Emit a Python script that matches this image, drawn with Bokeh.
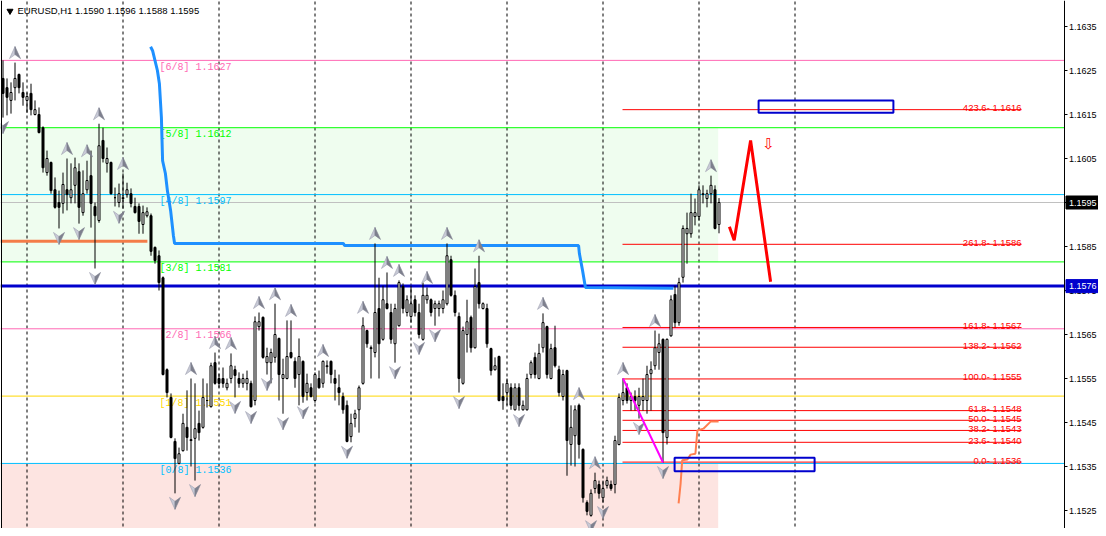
from bokeh.plotting import figure
from bokeh.models import Range1d
from bokeh.embed import file_html
from bokeh.resources import INLINE
from bokeh.core.properties import value

# ---------------- data ----------------
opens = [1.16232,1.16211,1.16182,1.16211,1.16241,1.16200,1.16182,1.16198,1.16150,1.16150,
         1.16120,1.16018,1.16041,1.15979,1.15950,1.15948,1.15979,1.15961,1.15989,1.16020,
         1.15927,1.15979,1.16011,1.15941,1.15909,1.16091,1.16039,1.16041,1.15961,1.15950,
         1.15959,1.15968,1.15970,1.15941,1.15941,1.15900,1.15920,1.15920,1.15848,1.15829,
         1.15779,1.15570,1.15507,1.15407,1.15357,1.15386,1.15439,1.15411,1.15414,1.15448,
         1.15439,1.15500,1.15486,1.15586,1.15550,1.15550,1.15529,1.15550,1.15570,1.15550,
         1.15539,1.15539,1.15539,1.15500,1.15668,1.15689,1.15586,1.15586,1.15598,1.15641,
         1.15550,1.15550,1.15609,1.15589,1.15559,1.15589,1.15518,1.15529,1.15500,1.15550,
         1.15539,1.15577,1.15589,1.15550,1.15529,1.15509,1.15489,1.15418,1.15459,1.15479,
         1.15539,1.15659,1.15620,1.15609,1.15709,1.15639,1.15720,1.15700,1.15629,1.15670,
         1.15759,1.15700,1.15691,1.15729,1.15700,1.15639,1.15729,1.15729,1.15709,1.15709,
         1.15709,1.15720,1.15820,1.15739,1.15691,1.15539,1.15650,1.15689,1.15620,1.15768,
         1.15709,1.15709,1.15618,1.15570,1.15600,1.15509,1.15518,1.15529,1.15479,1.15529,
         1.15479,1.15479,1.15559,1.15598,1.15550,1.15620,1.15668,1.15550,1.15620,1.15570,
         1.15509,1.15568,1.15400,1.15420,1.15489,1.15389,1.15268,1.15239,1.15300,1.15309,
         1.15279,1.15307,1.15309,1.15309,1.15400,1.15500,1.15529,1.15500,1.15509,1.15489,
         1.15500,1.15500,1.15561,1.15579,1.15609,1.15639,1.15416,1.15647,1.15741,1.15677,
         1.15780,1.15879,1.15879,1.15918,1.15918,1.15968,1.15959,1.15970,1.15979,1.15900]
highs = [1.16273,1.16232,1.16223,1.16268,1.16243,1.16223,1.16200,1.16220,1.16182,1.16166,
         1.16123,1.16068,1.16043,1.16007,1.15977,1.16018,1.16050,1.16039,1.16052,1.16039,
         1.16023,1.16045,1.16068,1.15950,1.16129,1.16120,1.16075,1.16043,1.15984,1.15993,
         1.16016,1.15995,1.15982,1.15961,1.15948,1.15943,1.15939,1.15925,1.15850,1.15841,
         1.15782,1.15573,1.15516,1.15414,1.15393,1.15470,1.15523,1.15550,1.15539,1.15477,
         1.15550,1.15539,1.15586,1.15609,1.15561,1.15575,1.15550,1.15607,1.15579,1.15564,
         1.15561,1.15568,1.15545,1.15691,1.15700,1.15691,1.15620,1.15618,1.15720,1.15643,
         1.15595,1.15682,1.15682,1.15598,1.15641,1.15591,1.15561,1.15539,1.15564,1.15568,
         1.15591,1.15591,1.15591,1.15570,1.15559,1.15518,1.15500,1.15470,1.15479,1.15534,
         1.15689,1.15661,1.15625,1.15857,1.15779,1.15761,1.15791,1.15720,1.15720,1.15773,
         1.15766,1.15739,1.15761,1.15739,1.15720,1.15768,1.15757,1.15732,1.15727,1.15727,
         1.15750,1.15857,1.15829,1.15750,1.15700,1.15668,1.15729,1.15693,1.15800,1.15829,
         1.15723,1.15720,1.15620,1.15598,1.15602,1.15539,1.15550,1.15539,1.15539,1.15539,
         1.15500,1.15561,1.15591,1.15609,1.15629,1.15698,1.15670,1.15629,1.15670,1.15579,
         1.15570,1.15570,1.15489,1.15489,1.15493,1.15391,1.15273,1.15298,1.15336,1.15318,
         1.15318,1.15327,1.15318,1.15420,1.15516,1.15550,1.15539,1.15518,1.15523,1.15529,
         1.15550,1.15579,1.15589,1.15659,1.15652,1.15641,1.15641,1.15739,1.15761,1.15779,
         1.15898,1.15927,1.15970,1.15959,1.15989,1.15989,1.15979,1.16011,1.15989,1.15960]
lows = [1.16143,1.16148,1.16152,1.16182,1.16198,1.16170,1.16154,1.16148,1.16148,1.16107,
        1.16018,1.16011,1.15970,1.15936,1.15891,1.15925,1.15932,1.15948,1.15948,1.15902,
        1.15920,1.15970,1.15893,1.15800,1.15904,1.16041,1.16018,1.15968,1.15941,1.15939,
        1.15936,1.15961,1.15939,1.15925,1.15879,1.15879,1.15916,1.15829,1.15811,1.15750,
        1.15557,1.15507,1.15414,1.15289,1.15355,1.15384,1.15386,1.15350,1.15318,1.15409,
        1.15436,1.15484,1.15484,1.15536,1.15529,1.15529,1.15523,1.15539,1.15507,1.15529,
        1.15529,1.15523,1.15484,1.15489,1.15659,1.15595,1.15559,1.15539,1.15586,1.15500,
        1.15470,1.15548,1.15595,1.15529,1.15489,1.15495,1.15500,1.15507,1.15495,1.15527,
        1.15529,1.15561,1.15539,1.15500,1.15489,1.15470,1.15405,1.15405,1.15439,1.15427,
        1.15536,1.15620,1.15550,1.15598,1.15550,1.15636,1.15707,1.15629,1.15586,1.15668,
        1.15698,1.15691,1.15677,1.15691,1.15641,1.15636,1.15720,1.15691,1.15670,1.15691,
        1.15698,1.15716,1.15736,1.15691,1.15518,1.15536,1.15609,1.15609,1.15618,1.15709,
        1.15707,1.15620,1.15557,1.15568,1.15498,1.15479,1.15489,1.15479,1.15477,1.15477,
        1.15477,1.15477,1.15550,1.15550,1.15548,1.15609,1.15550,1.15548,1.15575,1.15509,
        1.15500,1.15329,1.15352,1.15350,1.15368,1.15268,1.15239,1.15236,1.15289,1.15277,
        1.15268,1.15300,1.15295,1.15289,1.15398,1.15489,1.15493,1.15477,1.15477,1.15459,
        1.15477,1.15470,1.15477,1.15570,1.15570,1.15359,1.15400,1.15645,1.15666,1.15670,
        1.15768,1.15811,1.15870,1.15898,1.15909,1.15948,1.15939,1.15948,1.15889,1.15880]
closes = [1.16198,1.16189,1.16200,1.16232,1.16211,1.16189,1.16191,1.16161,1.16161,1.16109,
          1.16029,1.16050,1.15977,1.15939,1.15939,1.15991,1.15968,1.15979,1.16029,1.15939,
          1.15970,1.16000,1.15948,1.15920,1.16079,1.16050,1.16050,1.15970,1.15961,1.15970,
          1.15961,1.15979,1.15948,1.15927,1.15907,1.15927,1.15929,1.15839,1.15818,1.15768,
          1.15559,1.15518,1.15416,1.15368,1.15379,1.15448,1.15416,1.15409,1.15436,1.15427,
          1.15507,1.15500,1.15579,1.15539,1.15539,1.15539,1.15539,1.15579,1.15557,1.15539,
          1.15550,1.15550,1.15486,1.15679,1.15679,1.15598,1.15600,1.15609,1.15650,1.15559,
          1.15559,1.15600,1.15598,1.15550,1.15600,1.15509,1.15539,1.15509,1.15559,1.15529,
          1.15589,1.15579,1.15559,1.15539,1.15518,1.15479,1.15407,1.15448,1.15470,1.15529,
          1.15670,1.15629,1.15618,1.15700,1.15629,1.15729,1.15709,1.15639,1.15709,1.15768,
          1.15709,1.15729,1.15720,1.15700,1.15650,1.15739,1.15739,1.15700,1.15720,1.15720,
          1.15729,1.15829,1.15739,1.15700,1.15550,1.15659,1.15679,1.15620,1.15759,1.15720,
          1.15720,1.15629,1.15568,1.15579,1.15500,1.15500,1.15539,1.15489,1.15529,1.15489,
          1.15489,1.15550,1.15586,1.15559,1.15607,1.15677,1.15559,1.15618,1.15579,1.15518,
          1.15559,1.15409,1.15439,1.15479,1.15400,1.15279,1.15248,1.15289,1.15318,1.15289,
          1.15300,1.15318,1.15300,1.15409,1.15507,1.15518,1.15500,1.15509,1.15500,1.15509,
          1.15509,1.15559,1.15570,1.15620,1.15629,1.15427,1.15639,1.15729,1.15677,1.15768,
          1.15891,1.15891,1.15927,1.15927,1.15979,1.15970,1.15970,1.15989,1.15891,1.15950]

up_fractals = [3, 16, 21, 24, 30, 47, 53, 57, 64, 68, 72, 80, 90, 93, 96, 99, 106, 111,
               119, 135, 144, 148, 155, 163, 177]
down_fractals = [0, 14, 19, 23, 29, 43, 48, 58, 62, 66, 70, 75, 86, 98, 104, 108, 114,
                 129, 147, 150, 159, 165]

day_starts = [6, 30, 54, 78, 102, 126, 150, 174, 198]
time_ticks = [0, 16, 32, 48, 64, 80, 96, 112, 128, 144, 160, 176, 192, 208, 224, 240, 256]

murrey_names = ["[6/8]", "[5/8]", "[4/8]", "[3/8]", "[2/8]", "[1/8]", "[0/8]"]
murrey_levels = [1.16273, 1.16120, 1.15968, 1.15815, 1.15663, 1.15510, 1.15357]
murrey_texts = ["1.1627", "1.1612", "1.1597", "1.1581", "1.1566", "1.1551", "1.1536"]
murrey_colors = ["#ff69b4", "#00ff00", "#00bfff", "#00ff00", "#ff69b4", "#ffd700", "#00bfff"]
murrey_minus1 = 1.15205

bid_price = 1.1595
bid_text = "1.1595"
blue_level = 1.1576
blue_text = "1.1576"
orange_level = 1.15862
orange_end = 36.1

fib_ratios = ["0.0", "23.6", "38.2", "50.0", "61.8", "100.0", "138.2", "161.8", "261.8", "423.6"]
fib_prices = [1.15360, 1.15405, 1.15432, 1.15455, 1.15477, 1.15549, 1.15621, 1.15666, 1.15855, 1.16161]
fib_texts = ["1.1536", "1.1540", "1.1543", "1.1545", "1.1548", "1.1555", "1.1562", "1.1567", "1.1586", "1.1616"]
fib_start, fib_end = 154.875, 254.625
fib_anchor_x = [155, 165]
fib_anchor_y = [1.15550, 1.15359]

blue_x = [36.9, 37.4, 38.6, 39.1, 39.6, 39.9, 40.6, 41.1, 41.9, 42.6, 42.9, 85.1, 85.4,
          143.9, 144.1, 144.9, 145.6, 167.6]
blue_y = [1.16304, 1.16295, 1.16250, 1.16220, 1.16143, 1.16045, 1.16016, 1.15977, 1.15932,
          1.15875, 1.15857, 1.15857, 1.15852, 1.15852, 1.15834, 1.15795, 1.15757, 1.15755]

zig_x = [181.6, 182.8, 186.9, 191.9]
zig_y = [1.15895, 1.15864, 1.16091, 1.15770]
sell_arrow = (191.4, 1.16084)

step_x = [168.9, 169.4, 169.8, 171.1, 171.9, 173.1, 173.6, 175.1, 176.9, 178.9]
step_y = [1.15266, 1.15311, 1.15364, 1.15366, 1.15377, 1.15379, 1.15432, 1.15436, 1.15452, 1.15452]

boxes_left = [188.9, 167.9]
boxes_right = [222.6, 202.9]
boxes_top = [1.16182, 1.15370]
boxes_bottom = [1.16154, 1.15339]

zone_right = 178.8
y_ticks = [1.1525, 1.1535, 1.1545, 1.1555, 1.1565, 1.1575, 1.1585, 1.1595, 1.1605, 1.1615, 1.1625, 1.1635]
y_tick_labels = ["1.1525", "1.1535", "1.1545", "1.1555", "1.1565", "1.1575", "1.1585", "1.1595",
                 "1.1605", "1.1615", "1.1625", "1.1635"]
header = "EURUSD,H1  1.1590 1.1596 1.1588 1.1595"

# ---------------- figure ----------------
W, H = 1098, 528
PXX, PXY = 4.0, 44000.0             # px per bar, px per price unit
X_START = -0.625
X_END = X_START + W / PXX
Y_TOP = 1.164091
Y_BOT = Y_TOP - H / PXY
FRAME_RIGHT = 265.375               # chart border (price scale starts here)
FRAME_BOTTOM = Y_TOP - 532 / PXY

p = figure(width=W, height=H, x_range=Range1d(X_START, X_END), y_range=Range1d(Y_BOT, Y_TOP),
           output_backend="svg", toolbar_location=None, x_axis_location=None,
           y_axis_location=None, min_border=0)
p.grid.visible = False
p.outline_line_color = None
p.background_fill_color = "white"
p.border_fill_color = "white"

def dx(px):
    return px / PXX

def dy(px):
    return px / PXY

# zones
p.quad(left=[X_START], right=[zone_right], top=[murrey_levels[1]], bottom=[murrey_levels[3]],
       fill_color="#effdef", line_color=None)
p.quad(left=[X_START], right=[zone_right], top=[murrey_levels[6]], bottom=[FRAME_BOTTOM],
       fill_color="#fde4e1", line_color=None)

# day separators
p.segment(x0=day_starts, y0=[FRAME_BOTTOM] * len(day_starts), x1=day_starts,
          y1=[Y_TOP] * len(day_starts), line_color="black", line_width=1, line_dash="3 3")

# murrey lines
nl = len(murrey_levels)
p.segment(x0=[X_START] * nl, y0=murrey_levels, x1=[FRAME_RIGHT] * nl, y1=murrey_levels,
          line_color=murrey_colors, line_width=1)
p.segment(x0=[X_START], y0=[murrey_minus1], x1=[FRAME_RIGHT], y1=[murrey_minus1],
          line_color="#ffa500", line_width=1)
p.segment(x0=[X_START], y0=[bid_price], x1=[FRAME_RIGHT], y1=[bid_price],
          line_color="#c0c0c0", line_width=1)
p.segment(x0=[X_START], y0=[blue_level], x1=[FRAME_RIGHT], y1=[blue_level],
          line_color="#0000cd", line_width=3)
p.segment(x0=[X_START], y0=[orange_level], x1=[orange_end], y1=[orange_level],
          line_color="#f47c48", line_width=3)

# murrey labels
p.text(x=[39.1] * nl, y=murrey_levels,
       text=[f"{n}  {t}" for n, t in zip(murrey_names, murrey_texts)],
       text_color=murrey_colors, text_font=value("Liberation Mono"), text_font_size="10px",
       text_baseline="middle", text_align="left", y_offset=7)

# blue indicator
p.line(blue_x, blue_y, line_color="#1e90ff", line_width=3)

# fib levels
nf = len(fib_prices)
p.segment(x0=[fib_start] * nf, y0=fib_prices, x1=[fib_end] * nf, y1=fib_prices,
          line_color="red", line_width=1)
p.text(x=[fib_end] * nf, y=fib_prices,
       text=[f"{r}- {t}" for r, t in zip(fib_ratios, fib_texts)],
       text_color="red", text_font=value("Liberation Sans"), text_font_size="9.5px",
       text_align="right", text_baseline="alphabetic", y_offset=-2)

# candles
xs = list(range(len(opens)))
p.segment(x0=xs, y0=lows, x1=xs, y1=highs, line_color="black", line_width=1)
tops = [max(o, c) for o, c in zip(opens, closes)]
bots = [min(o, c) for o, c in zip(opens, closes)]
fills = ["white" if c > o else "black" for o, c in zip(opens, closes)]
p.vbar(x=xs, width=0.5, top=tops, bottom=bots, fill_color=fills, line_color="black", line_width=1)

# fractal arrows
lx, ly, rx, ry = [], [], [], []
hw, h1, h2 = dx(5.5), dy(6), dy(2)
for i in up_fractals:
    cx, cy = i, highs[i] + dy(10)
    lx.append([cx, cx - hw, cx]); ly.append([cy + h1, cy - h1, cy - h2])
    rx.append([cx, cx, cx + hw]); ry.append([cy + h1, cy - h2, cy - h1])
for i in down_fractals:
    cx, cy = i, lows[i] - dy(10)
    lx.append([cx, cx - hw, cx]); ly.append([cy - h1, cy + h1, cy + h2])
    rx.append([cx, cx, cx + hw]); ry.append([cy - h1, cy + h2, cy + h1])
p.patches(lx, ly, fill_color="#c8cad6", line_color="#9ea0b0", line_width=0.6)
p.patches(rx, ry, fill_color="#7e808e", line_color="#7e808e", line_width=0.6)

# fib anchor (magenta)
p.line(fib_anchor_x, fib_anchor_y, line_color="#ff00ff", line_width=2)

# orange steps
p.line(step_x, step_y, line_color="#ff7f50", line_width=2)

# blue boxes
p.quad(left=boxes_left, right=boxes_right, top=boxes_top, bottom=boxes_bottom,
       fill_alpha=0, line_color="#0000cd", line_width=2)

# red zigzag projection
p.line(zig_x, zig_y, line_color="red", line_width=3)
p.text(x=[sell_arrow[0]], y=[sell_arrow[1]], text=["\u21e9"], text_color="red",
       text_font=value("DejaVu Sans"), text_font_size="15px", text_align="center",
       text_baseline="middle")

# header
p.scatter(x=[1.75], y=[Y_TOP - dy(10.5)], marker="inverted_triangle", size=6,
          fill_color="black", line_color="black")
p.text(x=[3.625], y=[Y_TOP - dy(10)], text=[header], text_color="black",
       text_font=value("Liberation Sans"), text_font_size="9.5px", text_baseline="middle")

# chart borders
p.segment(x0=[X_START + dx(1), FRAME_RIGHT], y0=[FRAME_BOTTOM, FRAME_BOTTOM],
          x1=[X_START + dx(1), FRAME_RIGHT], y1=[Y_TOP, Y_TOP], line_color="black", line_width=1)

# price scale (right)
nt = len(y_ticks)
p.segment(x0=[FRAME_RIGHT] * nt, y0=y_ticks, x1=[FRAME_RIGHT + dx(3)] * nt, y1=y_ticks,
          line_color="black", line_width=1)
p.text(x=[FRAME_RIGHT + dx(4.5)] * nt, y=y_ticks, text=y_tick_labels, text_color="black",
       text_font=value("Liberation Sans"), text_font_size="9px", text_baseline="middle",
       text_align="left")
# time ticks (labels lie below the visible area)
ntt = len(time_ticks)
p.segment(x0=time_ticks, y0=[FRAME_BOTTOM] * ntt, x1=time_ticks, y1=[FRAME_BOTTOM - dy(4)] * ntt,
          line_color="black", line_width=1)

# current price boxes on the scale
for pr, t, bg in [(bid_price, bid_text, "black"), (blue_level, blue_text, "#0000cd")]:
    p.quad(left=[FRAME_RIGHT + dx(1.5)], right=[FRAME_RIGHT + dx(34)], top=[pr + dy(6.5)],
           bottom=[pr - dy(6.5)], fill_color=bg, line_color=bg)
    p.text(x=[FRAME_RIGHT + dx(4.5)], y=[pr], text=[t], text_color="white",
           text_font=value("Liberation Sans"), text_font_size="9px", text_baseline="middle",
           text_align="left")

open("out.html", "w").write(file_html(p, INLINE))
